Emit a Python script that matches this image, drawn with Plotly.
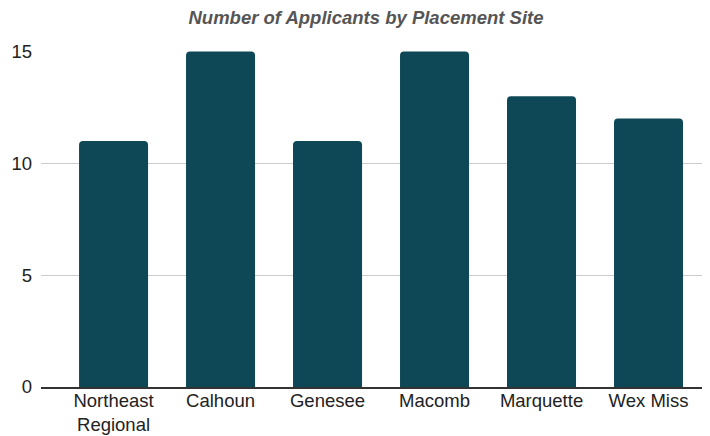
import plotly.graph_objects as go

sites = ["Northeast<br>Regional", "Calhoun", "Genesee", "Macomb", "Marquette", "Wex Miss"]
applicants = [11, 15, 11, 15, 13, 12]
y_ticks = [0, 5, 10, 15]

W, H = 702, 428  # page body has an 8px margin

fig = go.Figure(go.Bar(
    x=sites, y=applicants,
    marker=dict(color="#0e4856", line=dict(width=0)),
    width=0.645,
))
fig.update_layout(
    width=W, height=H,
    margin=dict(l=33, r=2, t=43, b=49, autoexpand=False),
    paper_bgcolor="white", plot_bgcolor="white",
    barcornerradius=4,
    font=dict(family="Liberation Sans, Arial, sans-serif", size=18.5, color="#222222"),
    title=dict(text="<b><i>Number of Applicants by Placement Site</i></b>",
               x=358/W, xanchor="center", y=1 - 10/H, yanchor="middle",
               font=dict(size=18.5, color="#555555")),
    showlegend=False,
)
fig.update_xaxes(range=[-0.678, 5.556], showline=True, linecolor="#333333", linewidth=1.5,
                 ticks="", showgrid=False, tickfont=dict(size=18.5), ticklabelstandoff=-4,
                 automargin=False)
fig.update_yaxes(range=[0, 15.02], tickvals=y_ticks, showgrid=True, gridcolor="#cccccc",
                 gridwidth=1, zeroline=False, ticks="", ticklabelstandoff=8,
                 tickfont=dict(size=18.5), automargin=False)
fig.write_html("out.html")
